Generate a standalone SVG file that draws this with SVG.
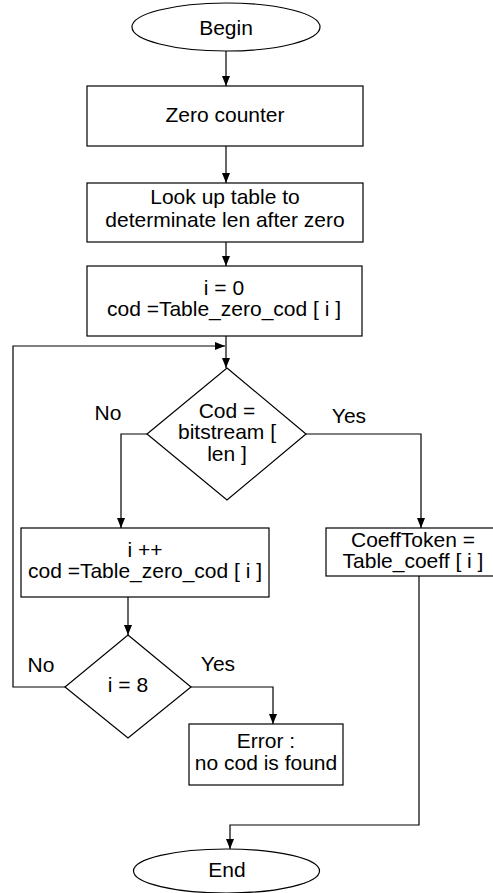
<svg xmlns="http://www.w3.org/2000/svg" width="493" height="893" viewBox="0 0 493 893">
<style>
.s{fill:#fff;stroke:#000;stroke-width:1.2}
.c{fill:none;stroke:#000;stroke-width:1.2}
text{font-family:"Liberation Sans",Arial,sans-serif;font-size:21px;fill:#000;text-anchor:middle}
</style>
<defs>
<marker id="a" viewBox="0 0 10 10" refX="10" refY="5" markerWidth="10" markerHeight="10" markerUnits="userSpaceOnUse" orient="auto">
<path d="M0,1 L10,5 L0,9 Z" fill="#000"/>
</marker>
</defs>
<rect width="493" height="893" fill="#fff"/>
<g id="connectors">
<path class="c" d="M226,51 V86" marker-end="url(#a)"/>
<path class="c" d="M226,146 V183" marker-end="url(#a)"/>
<path class="c" d="M226,242 V266" marker-end="url(#a)"/>
<path class="c" d="M226,336 V368" marker-end="url(#a)"/>
<path class="c" d="M65,687 H13 V346 H225" marker-end="url(#a)"/>
<path class="c" d="M147,434 H121 V528" marker-end="url(#a)"/>
<path class="c" d="M306,434 H421 V528" marker-end="url(#a)"/>
<path class="c" d="M128,597 V635" marker-end="url(#a)"/>
<path class="c" d="M191,687 H273 V724" marker-end="url(#a)"/>
<path class="c" d="M419,576 V825 H230 V849" marker-end="url(#a)"/>
<text x="108" y="420">No</text>
<text x="349" y="423">Yes</text>
<text x="41" y="672">No</text>
<text x="218" y="671">Yes</text>
</g>
<g id="begin">
<ellipse class="s" cx="226" cy="27" rx="94" ry="24"/>
<text x="226" y="35">Begin</text>
</g>
<g id="zero-counter">
<rect class="s" x="87" y="86" width="276" height="60"/>
<text x="225" y="122">Zero counter</text>
</g>
<g id="lookup">
<rect class="s" x="87" y="183" width="276" height="59"/>
<text x="225" y="204">Look up table to</text>
<text x="225" y="227">determinate len after zero</text>
</g>
<g id="init">
<rect class="s" x="87" y="266" width="275" height="70"/>
<text x="224" y="295">i = 0</text>
<text x="224" y="316">cod =Table_zero_cod [ i ]</text>
</g>
<g id="decision-cod">
<path class="s" d="M227,368 L306,434 L227,500 L147,434 Z"/>
<text x="227" y="418">Cod =</text>
<text x="227" y="439">bitstream [</text>
<text x="227" y="461">len ]</text>
</g>
<g id="increment">
<rect class="s" x="21" y="528" width="248" height="69"/>
<text x="145" y="557">i ++</text>
<text x="145" y="578">cod =Table_zero_cod [ i ]</text>
</g>
<g id="coeff-token">
<rect class="s" x="326" y="528" width="175" height="48"/>
<text x="413" y="547">CoeffToken =</text>
<text x="413" y="568">Table_coeff [ i ]</text>
</g>
<g id="decision-i8">
<path class="s" d="M128,635 L191,687 L128,738 L65,687 Z"/>
<text x="128" y="692">i = 8</text>
</g>
<g id="error">
<rect class="s" x="189" y="724" width="154" height="61"/>
<text x="266" y="748">Error :</text>
<text x="266" y="770">no cod is found</text>
</g>
<g id="end">
<ellipse class="s" cx="226.5" cy="871" rx="93" ry="22"/>
<text x="227" y="877">End</text>
</g>
</svg>
